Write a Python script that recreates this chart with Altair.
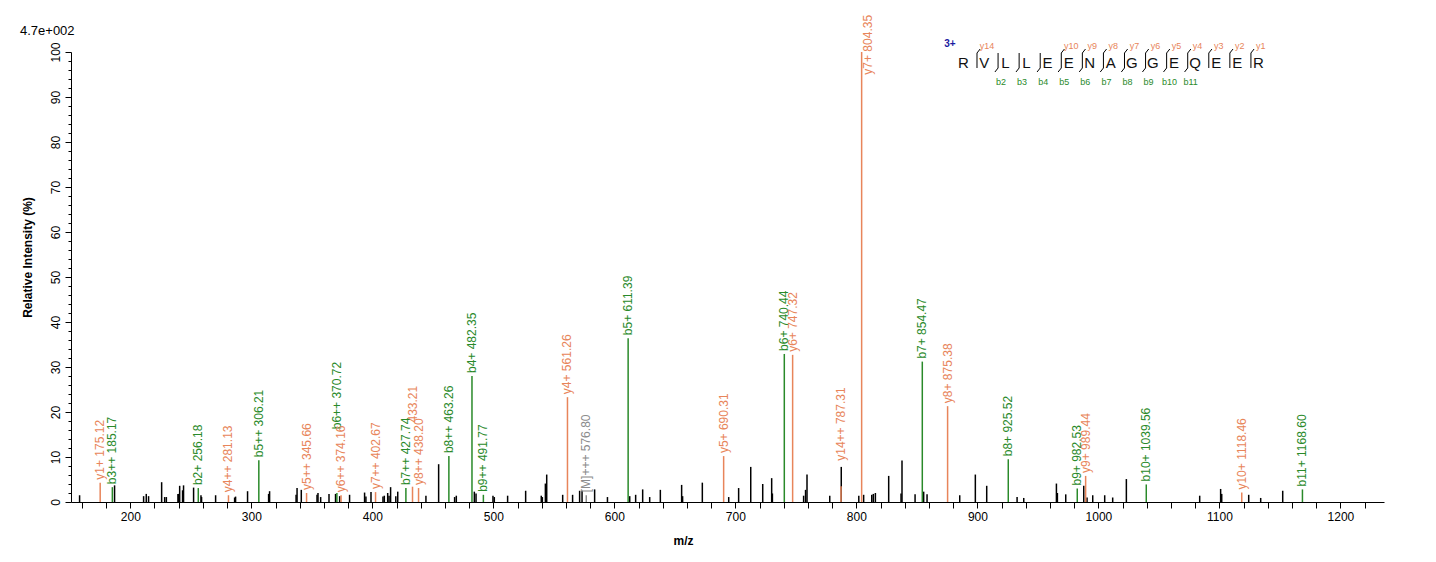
"""MS/MS fragment spectrum of RVLLEENAGGEQEER (3+), redrawn with Altair."""

import altair as alt
import pandas as pd

FONT = "Liberation Sans"
ORANGE = "#E8855A"
GREEN = "#2A8A2A"
GREY = "#8C8C8C"

BASE_PEAK = "4.7e+002"

# unassigned peaks: m/z and relative intensity (%)
PEAK_MZ = [
    158.1, 187.0, 211.0, 213.2, 215.1, 225.9, 228.4, 229.8, 239.4, 239.9,
    240.8, 243.2, 244.0, 252.3, 258.4, 258.9, 270.5, 286.2, 287.0, 296.9,
    314.3, 315.1, 337.0, 337.8, 341.3, 354.3, 355.1, 357.3, 364.2, 369.6,
    373.0, 381.2, 393.6, 394.7, 398.9, 408.8, 409.9, 412.7, 413.8, 415.1,
    419.4, 421.0, 444.3, 454.8, 468.0, 469.4, 484.3, 485.7, 499.7, 500.8,
    511.8, 526.7, 539.6, 540.5, 543.0, 544.1, 557.3, 565.5, 571.3, 573.3,
    583.7, 594.3, 612.7, 617.6, 623.4, 629.2, 638.0, 655.6, 656.4, 672.7,
    694.5, 702.7, 712.7, 722.6, 730.0, 730.6, 756.4, 758.0, 759.2, 778.0,
    787.5, 802.0, 806.0, 812.7, 814.0, 815.7, 826.7, 836.9, 837.7, 848.5,
    855.6, 858.4, 885.4, 898.3, 907.7, 932.8, 938.3, 965.3, 966.1, 973.0,
    987.9, 990.6, 995.3, 1005.2, 1011.8, 1023.1, 1083.7, 1101.0, 1101.9, 1124.2,
    1134.1, 1152.3,
]
PEAK_INT = [
    1.5, 3.7, 1.3, 1.8, 1.3, 4.4, 1.1, 1.1, 1.8, 1.8,
    3.6, 2.6, 3.7, 3.2, 1.5, 1.1, 1.5, 1.0, 1.2, 2.4,
    1.8, 2.4, 1.6, 3.1, 2.7, 1.6, 2.0, 1.1, 1.8, 1.8,
    1.3, 1.6, 2.1, 1.2, 2.2, 1.2, 1.4, 2.0, 1.4, 3.3,
    1.3, 2.3, 1.4, 8.4, 1.1, 1.4, 2.3, 1.9, 1.4, 1.1,
    1.4, 2.5, 1.4, 1.1, 4.1, 6.1, 1.6, 1.6, 2.5, 2.5,
    2.8, 1.1, 1.3, 1.6, 2.8, 1.1, 2.7, 3.8, 1.3, 4.3,
    1.1, 3.1, 7.8, 4.0, 5.3, 1.9, 1.4, 2.7, 6.1, 1.4,
    7.8, 1.4, 1.6, 1.6, 1.8, 2.0, 5.8, 1.9, 9.2, 1.7,
    2.3, 1.7, 1.5, 6.1, 3.6, 1.1, 0.9, 4.1, 2.0, 1.7,
    3.6, 1.0, 1.5, 1.5, 1.0, 5.1, 1.4, 2.9, 1.8, 1.6,
    0.9, 2.5,
]

# assigned fragment ions
ION_LABELS = [
    "y1+ 175.12", "b3++ 185.17", "b2+ 256.18", "y4++ 281.13", "b5++ 306.21",
    "y5++ 345.66", "b6++ 370.72", "y6++ 374.16", "y7++ 402.67", "b7++ 427.74",
    "433.21", "y8++ 438.20", "b8++ 463.26", "b4+ 482.35", "b9++ 491.77",
    "y4+ 561.26", "[M]+++ 576.80", "b5+ 611.39", "y5+ 690.31", "b6+ 740.44",
    "y6+ 747.32", "y14++ 787.31", "y7+ 804.35", "b7+ 854.47", "y8+ 875.38",
    "b8+ 925.52", "b9+ 982.53", "y9+ 989.44", "b10+ 1039.56", "y10+ 1118.46",
    "b11+ 1168.60",
]
ION_MZ = [
    175.12, 185.17, 256.18, 281.13, 306.21,
    345.66, 370.72, 374.16, 402.67, 427.74,
    433.21, 438.20, 463.26, 482.35, 491.77,
    561.26, 576.80, 611.39, 690.31, 740.44,
    747.32, 787.31, 804.35, 854.47, 875.38,
    925.52, 982.53, 989.44, 1039.56, 1118.46,
    1168.60,
]
ION_INT = [
    4.3, 3.3, 3.1, 1.5, 9.3,
    2.0, 2.0, 1.5, 2.2, 3.1,
    3.4, 3.1, 10.2, 28.0, 1.6,
    23.3, 1.5, 36.4, 10.2, 32.9,
    32.7, 3.5, 100.0, 31.2, 21.3,
    9.5, 3.0, 5.8, 3.9, 2.1,
    2.8,
]
ION_KIND = [
    "y", "b", "b", "y", "b",
    "y", "b", "y", "y", "b",
    "y", "y", "b", "b", "b",
    "y", "M", "b", "y", "b",
    "y", "y", "y", "b", "y",
    "b", "b", "y", "b", "y",
    "b",
]

# labels that were pushed away from their peak top (m/z, intensity)
LABEL_ANCHOR = {
    "b6++ 370.72": (370.72, 15.5),
    "433.21": (433.21, 17.0),
    "y14++ 787.31": (787.31, 8.5),
    "y7+ 804.35": (810.0, 94.3),
}

SEQUENCE = list("RVLLEENAGGEQEER")
Y_BREAKS = [1, 5, 6, 7, 8, 9, 10, 11, 12, 13, 14]
Y_NAMES = ["y14", "y10", "y9", "y8", "y7", "y6", "y5", "y4", "y3", "y2", "y1"]
B_BREAKS = [2, 3, 4, 5, 6, 7, 8, 9, 10, 11]
B_NAMES = ["b2", "b3", "b4", "b5", "b6", "b7", "b8", "b9", "b10", "b11"]

X_TICKS = list(range(160, 1240, 20))
Y_TICKS = list(range(0, 102, 2))


peaks = pd.DataFrame({"mz": PEAK_MZ, "intensity": PEAK_INT})
ions = pd.DataFrame(
    {"label": ION_LABELS, "mz": ION_MZ, "intensity": ION_INT, "kind": ION_KIND}
)
ions["label_mz"] = [LABEL_ANCHOR.get(l, (m, i))[0] for l, m, i in zip(ION_LABELS, ION_MZ, ION_INT)]
ions["label_at"] = [LABEL_ANCHOR.get(l, (m, i))[1] for l, m, i in zip(ION_LABELS, ION_MZ, ION_INT)]

x_axis = alt.Axis(
    values=X_TICKS,
    labelExpr="datum.value % 100 == 0 ? '' + datum.value : ''",
    title="m/z",
    titleX=612,
    titleY=38,
    titleAlign="center",
    titleBaseline="middle",
    tickSize=6,
    labelPadding=3,
    labelFlush=False,
    labelOverlap=False,
)
y_axis = alt.Axis(
    values=Y_TICKS,
    labelExpr="datum.value % 10 == 0 ? '' + datum.value : ''",
    labelAngle=270,
    labelAlign="center",
    labelBaseline="bottom",
    labelPadding=3,
    labelFlush=False,
    labelOverlap=False,
    tickSize={"condition": {"test": "datum.value % 10 == 0", "value": 6}, "value": 3},
    title="Relative  Intensity (%)",
    titleAngle=270,
    titleX=-44,
    titleY=205,
    titleAlign="center",
    titleBaseline="middle",
)
x_scale = alt.Scale(domain=[151, 1236], nice=False)
y_scale = alt.Scale(domain=[0, 100], nice=False)
kind_color = alt.Color(
    "kind:N",
    scale=alt.Scale(domain=["y", "b", "M"], range=[ORANGE, GREEN, GREY]),
    legend=None,
)

black = alt.Chart(peaks).mark_rule(color="black", strokeWidth=1.5).encode(
    x=alt.X("mz:Q", scale=x_scale, axis=x_axis),
    y=alt.Y("intensity:Q", scale=y_scale, axis=y_axis),
    y2=alt.datum(0),
)
ion_lines = alt.Chart(ions).mark_rule(strokeWidth=1.5).encode(
    x=alt.X("mz:Q", scale=x_scale, axis=x_axis),
    y=alt.Y("intensity:Q", scale=y_scale, axis=y_axis),
    y2=alt.datum(0),
    color=kind_color,
)
ion_text = alt.Chart(ions).mark_text(
    angle=270, align="left", baseline="middle", dx=3, fontSize=12, font=FONT
).encode(
    x=alt.X("label_mz:Q", scale=x_scale, axis=x_axis),
    y=alt.Y("label_at:Q", scale=y_scale, axis=y_axis),
    text="label:N",
    color=kind_color,
)
spectrum = alt.layer(black, ion_lines, ion_text)

# peptide sequence with fragment breaks, top right
seq_scale = alt.Scale(domain=[0, 14], range=[892.3, 1187.3])
residues = pd.DataFrame({"idx": range(len(SEQUENCE)), "aa": SEQUENCE})
breaks = pd.DataFrame({"pos": [k - 0.35 for k in sorted(set(Y_BREAKS) | set(B_BREAKS))]})
y_marks = pd.DataFrame({"pos": [k - 0.35 for k in Y_BREAKS], "name": Y_NAMES})
b_marks = pd.DataFrame({"pos": [k - 0.35 for k in B_BREAKS], "name": B_NAMES})

res_text = alt.Chart(residues).mark_text(fontSize=15, font=FONT, color="#111111").encode(
    x=alt.X("idx:Q", scale=seq_scale, axis=None),
    y=alt.value(10.5),
    text="aa:N",
)
bars = alt.Chart(breaks).mark_rule(color="black", strokeWidth=1).encode(
    x=alt.X("pos:Q", scale=seq_scale, axis=None),
    y=alt.value(1),
    y2=alt.value(16),
)
y_hooks = alt.Chart(y_marks).transform_calculate(end="datum.pos + 0.15").mark_rule(
    color="black", strokeWidth=1
).encode(
    x=alt.X("pos:Q", scale=seq_scale, axis=None),
    x2="end:Q",
    y=alt.value(1),
    y2=alt.value(-3),
)
b_hooks = alt.Chart(b_marks).transform_calculate(end="datum.pos - 0.15").mark_rule(
    color="black", strokeWidth=1
).encode(
    x=alt.X("pos:Q", scale=seq_scale, axis=None),
    x2="end:Q",
    y=alt.value(16),
    y2=alt.value(20),
)
y_names = alt.Chart(y_marks).transform_calculate(at="datum.pos + 0.47").mark_text(
    fontSize=9, font=FONT, color=ORANGE
).encode(
    x=alt.X("at:Q", scale=seq_scale, axis=None),
    y=alt.value(-6.5),
    text="name:N",
)
b_names = alt.Chart(b_marks).transform_calculate(at="datum.pos + 0.14").mark_text(
    fontSize=9, font=FONT, color=GREEN
).encode(
    x=alt.X("at:Q", scale=seq_scale, axis=None),
    y=alt.value(29.5),
    text="name:N",
)
charge = alt.Chart(pd.DataFrame({"z": ["3+"]})).mark_text(
    fontSize=10, font=FONT, fontWeight="bold", color="#1A1AA0"
).encode(x=alt.value(879), y=alt.value(-8), text="z:N")
base_peak = alt.Chart(pd.DataFrame({"t": [BASE_PEAK]})).mark_text(
    fontSize=13, font=FONT, color="black", align="left", baseline="middle"
).encode(x=alt.value(-51), y=alt.value(-21), text="t:N")
sequence = alt.layer(res_text, bars, y_hooks, b_hooks, y_names, b_names, charge, base_peak)

chart = (
    alt.layer(spectrum, sequence)
    .resolve_scale(x="independent", y="independent")
    .properties(
        width=1313,
        height=450,
        autosize=alt.AutoSizeParams(type="none"),
        padding={"left": 63, "top": 44, "right": 44, "bottom": 52},
    )
    .configure_view(stroke=None)
    .configure_axis(
        grid=False,
        domainColor="black",
        tickColor="black",
        labelColor="black",
        labelFont=FONT,
        labelFontSize=12,
        titleFont=FONT,
        titleFontSize=12,
        titleFontWeight="bold",
        titleColor="black",
    )
)

chart.save("out.html", embed_options={"renderer": "svg", "actions": False})
